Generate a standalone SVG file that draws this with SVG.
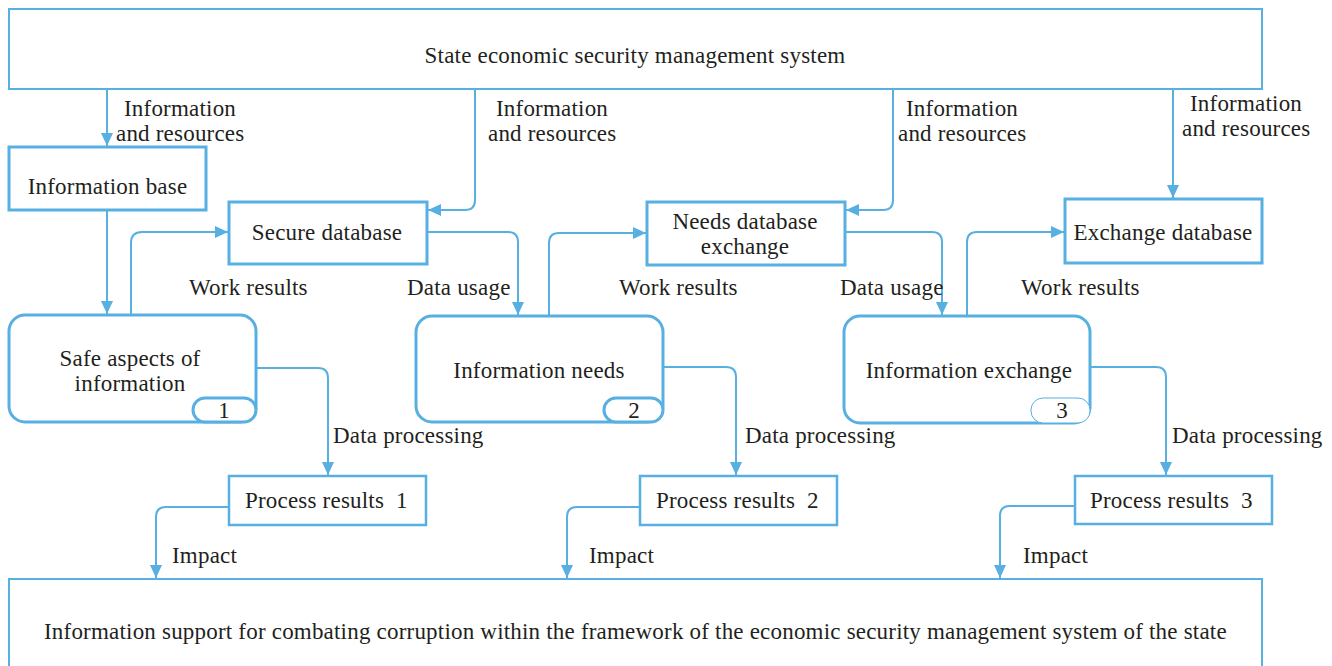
<svg xmlns="http://www.w3.org/2000/svg" width="1332" height="666" viewBox="0 0 1332 666">
<defs>
<style>
.box{fill:#fff;stroke:#58afe1;stroke-width:3}
.thin{stroke-width:2}
.mid{stroke-width:2.5}
.badge{fill:#fff;stroke:#58afe1;stroke-width:3}
.conn{fill:none;stroke:#58afe1;stroke-width:2;marker-end:url(#ah)}
text{font-family:"Liberation Serif","Times New Roman",serif;font-size:23px;letter-spacing:0.2px;fill:#231f20}
.c{text-anchor:middle}
.pre{white-space:pre}
</style>
<marker id="ah" markerUnits="userSpaceOnUse" markerWidth="14" markerHeight="12" refX="13" refY="6" orient="auto">
<path d="M0,0 L13,6 L0,12 Z" fill="#58afe1"/>
</marker>
</defs>
<rect width="1332" height="666" fill="#fff"/>

<g id="connectors">
<path class="conn" d="M107,89 V146"/>
<path class="conn" d="M475,89 V200 Q475,210 465,210 H428"/>
<path class="conn" d="M893,89 V200 Q893,210 883,210 H846"/>
<path class="conn" d="M1173,89 V198"/>
<path class="conn" d="M107,211 V314"/>
<path class="conn" d="M131,315 V243 Q131,232 142,232 H228"/>
<path class="conn" d="M427,232 H508 Q518,232 518,242 V315"/>
<path class="conn" d="M549,316 V243 Q549,233 559,233 H646"/>
<path class="conn" d="M845,232 H932 Q942,232 942,242 V315"/>
<path class="conn" d="M967,316 V242 Q967,232 977,232 H1064"/>
<path class="conn" d="M256,368 H318 Q328,368 328,378 V475"/>
<path class="conn" d="M663,367 H726 Q736,367 736,377 V475"/>
<path class="conn" d="M1090,367 H1156 Q1166,367 1166,377 V475"/>
<path class="conn" d="M229,507 H166 Q156,507 156,517 V578"/>
<path class="conn" d="M640,507 H577 Q567,507 567,517 V578"/>
<path class="conn" d="M1075,506 H1010 Q1000,506 1000,516 V578"/>
</g>

<g id="labels">
<text x="124" y="116">Information</text><text x="116" y="141">and resources</text>
<text x="496" y="116">Information</text><text x="488" y="141">and resources</text>
<text x="906" y="116">Information</text><text x="898" y="141">and resources</text>
<text x="1190" y="111">Information</text><text x="1182" y="136">and resources</text>
<text x="189" y="295">Work results</text>
<text x="619" y="295">Work results</text>
<text x="1021" y="295">Work results</text>
<text x="407" y="295">Data usage</text>
<text x="840" y="295">Data usage</text>
<text x="333" y="443">Data processing</text>
<text x="745" y="443">Data processing</text>
<text x="1172" y="443">Data processing</text>
<text x="172" y="563">Impact</text>
<text x="589" y="563">Impact</text>
<text x="1023" y="563">Impact</text>
</g>

<g id="state-system">
<rect class="box thin" x="9" y="9" width="1253" height="80"/>
<text class="c" x="635" y="63">State economic security management system</text>
</g>

<g id="information-base">
<rect class="box" x="9" y="147" width="197" height="63"/>
<text class="c" x="107.5" y="194">Information base</text>
</g>

<g id="secure-database">
<rect class="box" x="229" y="202" width="198" height="62"/>
<text class="c" x="327" y="240">Secure database</text>
</g>

<g id="needs-database">
<rect class="box" x="647" y="202" width="198" height="63"/>
<text class="c" x="745" y="229">Needs database</text>
<text class="c" x="745" y="254">exchange</text>
</g>

<g id="exchange-database">
<rect class="box" x="1065" y="199" width="197" height="64"/>
<text class="c" x="1163" y="240">Exchange database</text>
</g>

<g id="safe-aspects">
<rect class="box" x="9" y="315" width="247" height="107" rx="16"/>
<rect class="badge" x="193" y="398" width="63" height="24" rx="12"/>
<text class="c" x="130" y="366">Safe aspects of</text>
<text class="c" x="130" y="391">information</text>
<text class="c" x="224" y="418">1</text>
</g>

<g id="information-needs">
<rect class="box" x="416" y="316" width="247" height="106" rx="16"/>
<rect class="badge" x="604" y="398" width="59" height="24" rx="12"/>
<text class="c" x="539" y="378">Information needs</text>
<text class="c" x="634" y="418">2</text>
</g>

<g id="information-exchange">
<rect class="box" x="844" y="316" width="246" height="107" rx="16"/>
<rect class="badge" x="1031" y="398" width="59" height="25" rx="12" style="stroke-width:1"/>
<text class="c" x="969" y="378">Information exchange</text>
<text class="c" x="1062" y="418">3</text>
</g>

<g id="process-results-1">
<rect class="box mid" x="229" y="476" width="197" height="49"/>
<text class="pre" x="245" y="508">Process results  1</text>
</g>

<g id="process-results-2">
<rect class="box mid" x="640" y="476" width="197" height="49"/>
<text class="pre" x="656" y="508">Process results  2</text>
</g>

<g id="process-results-3">
<rect class="box mid" x="1075" y="476" width="197" height="48"/>
<text class="pre" x="1090" y="508">Process results  3</text>
</g>

<g id="information-support">
<rect class="box thin" x="9" y="579" width="1253" height="120"/>
<text x="44" y="639">Information support for combating corruption within the framework of the economic security management system of the state</text>
</g>
</svg>
